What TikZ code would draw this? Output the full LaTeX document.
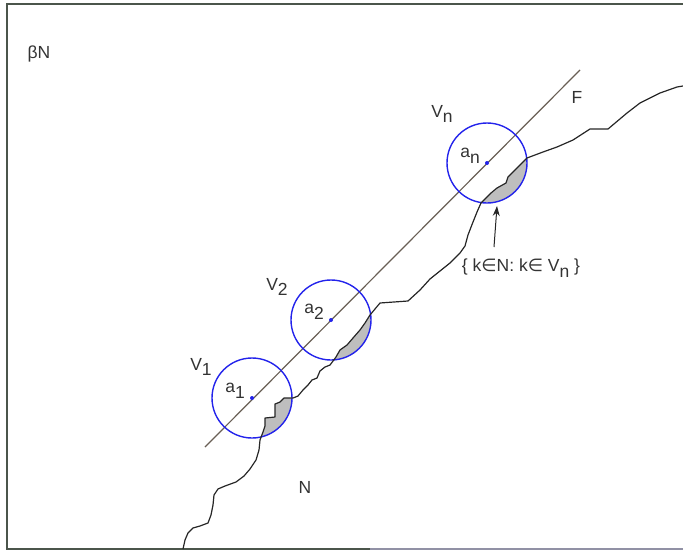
\documentclass[tikz,border=0pt]{standalone}
\usepackage{fontspec}
\setmainfont{Liberation Sans}
\newfontfamily\symfont{DejaVu Sans}
\usetikzlibrary{arrows.meta,positioning}
\newcommand{\lsub}[1]{\raisebox{-0.32em}{#1}}
\newcommand{\elem}{{\symfont ∈}}
\definecolor{frameline}{RGB}{75,85,75}
\definecolor{framelow}{RGB}{145,145,165}
\definecolor{lineF}{RGB}{105,95,85}
\definecolor{circblue}{RGB}{35,35,235}
\definecolor{shadegray}{RGB}{190,190,190}

% boundary of N, in pixel coordinates
\def\edgelist{183/549, 185/540, 188/533, 193/528, 200/526, 208/523, 211/515,
  213/505, 214/495, 218/489, 225/486, 236/482, 244/476, 250/469, 256/460,
  259/450, 260/440, 263/432, 265/426, 265/418, 275/417, 275/404, 280/402,
  284/398, 293/398, 298/396, 303/390, 308/385, 312/380, 317/378, 320/371,
  325/367, 330/365, 336/357, 340/350, 347/345, 353/338, 360/330, 365/323,
  370/315, 380/303, 408/301, 420/290, 430/279, 440/271, 450/263, 460/253,
  465/246, 468/235, 473/222, 477/212, 481/203, 485/199, 491/193, 497/188,
  506/183, 508/177, 515/170, 521/164, 527/158, 543/152, 557/147, 573/140,
  590/129, 608/129, 627/113, 640/103, 660/93, 677/87, 683/86}

\begin{document}
\begin{tikzpicture}[>=Stealth,x=1pt,y=-1pt,font=\fontsize{17.5}{20}\selectfont,
    circ/.style={draw=circblue,line width=1.4pt},
    lbl/.style={text=black!80,inner sep=0pt},
    edgeline/.style={draw=black!85,line width=1.2pt,line join=round}]
    \useasboundingbox (0,0) rectangle (683,552);

    % frame
    \draw[frameline,line width=1.5pt] (683,4) -- (7,4) -- (7,549) -- (370,549);
    \draw[framelow,line width=2.5pt] (370,549) -- (683,549);

    % centres of the neighbourhoods
    \coordinate (a1) at (252,398);
    \coordinate (a2) at (331,320);
    \coordinate (an) at (487,163);

    % shaded parts of N inside each circle
    \foreach \c in {a1,a2,an} {
        \begin{scope}
            \clip (\c) circle (40pt);
            \fill[shadegray] (183,549) \foreach \x/\y in \edgelist {-- (\x,\y)}
                -- (683,552) -- cycle;
        \end{scope}
    }

    % the line F
    \coordinate (Fs) at (205,447);
    \coordinate (Fe) at (580,70);
    \draw[lineF,line width=1.2pt] (Fs) -- (Fe);

    % circles and centres
    \foreach \c in {a1,a2,an} {
        \draw[circ] (\c) circle (40pt);
        \fill[circblue] (\c) circle (2pt);
    }

    % boundary of N
    \draw[edgeline] (183,549) \foreach \x/\y in \edgelist {-- (\x,\y)};

    % labels
    \node[lbl] (betaN) at (39,54) {βN};
    \node[lbl] (Nlbl) at (305,487) {N};
    \node[lbl] (Flbl) at (577,97) {F};
    \node[lbl] (V1) at (201,367) {V\lsub{1}};
    \node[lbl] (V2) at (277,287) {V\lsub{2}};
    \node[lbl] (Vn) at (442,114) {V\lsub{n}};
    \node[lbl] (a1lbl) at (235,391) {a\lsub{1}};
    \node[lbl] (a2lbl) at (314,312) {a\lsub{2}};
    \node[lbl] (anlbl) at (470,156) {a\lsub{n}};
    \node[lbl] (setlbl) at (521,268) {\{ k\elem N: k\elem\ V\lsub{n} \}};

    % arrow to the shaded part
    \coordinate (tail) at (494,247);
    \coordinate (tip) at (497,206);
    \draw[->,line width=1pt,black!85,>={Stealth[length=10pt,width=7pt]}] (tail) -- (tip);
\end{tikzpicture}
\end{document}
